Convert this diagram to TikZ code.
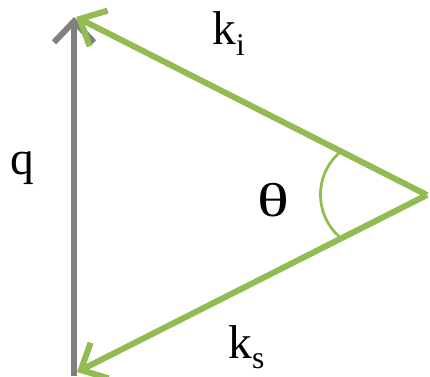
\documentclass[tikz,border=0pt]{standalone}
\usepackage{fontspec}
\setmainfont{Liberation Serif}
\usetikzlibrary{arrows.meta,calc}

\definecolor{kgreen}{RGB}{146,187,82}
\definecolor{qgray}{RGB}{128,128,128}
\newcommand{\lowtxt}[1]{\raisebox{-0.22em}{\fontsize{18}{18}\selectfont #1}}

\tikzset{
  vec/.style={line width=0.12cm, -{Straight Barb[length=0.42cm, width=0.8cm]}},
  lbl/.style={anchor=base west, inner sep=0pt, font=\fontsize{27}{30}\selectfont},
}

\begin{document}
\begin{tikzpicture}[x=0.02cm, y=0.02cm]
  \useasboundingbox (0,0) rectangle (430,376);

  \coordinate (R) at (427,181);
  \coordinate (T) at (76,359);
  \coordinate (B) at (77,4);
  \coordinate (qB) at (74,0);
  \coordinate (qT) at (74,359);

  \coordinate (a1) at ($(R)!0.245!(T)$);
  \coordinate (a2) at ($(R)!0.245!(B)$);

  \draw[vec, qgray] (qB) -- (qT);
  \draw[vec, kgreen] (R) -- (T);
  \draw[vec, kgreen] (R) -- (B);
  \draw[kgreen, line width=0.055cm] (a1) .. controls +(-27,-22) and +(-28,23) .. (a2);

  \node[lbl] (ki) at (212,331) {k\lowtxt{i}};
  \node[lbl] (q) at (10,201) {q};
  \node[lbl] (theta) at (257,159) {\scalebox{1.4}[1]{θ}};
  \node[lbl] (ks) at (228,18) {k\lowtxt{s}};
\end{tikzpicture}
\end{document}
